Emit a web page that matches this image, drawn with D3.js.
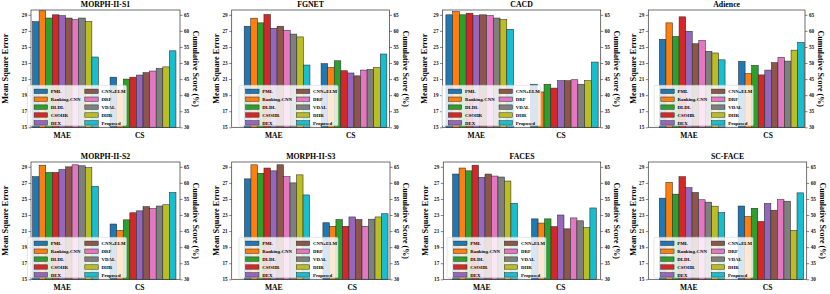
<!DOCTYPE html>
<html>
<head>
<meta charset="utf-8">
<script src="https://cdn.jsdelivr.net/npm/d3@7"></script>
<style>
body { margin: 0; background: #fff; }
svg { display: block; }
text { font-family: "Liberation Serif", "Times New Roman", serif; }
</style>
</head>
<body>
<svg width="830" height="294"></svg>
<script>
var methods = ["PML", "Ranking-CNN", "DLDL", "CSOHR", "DEX", "CNN+ELM", "DRF", "VDAL", "DHR", "Proposed"];
var colors = ["#1f77b4", "#ff7f0e", "#2ca02c", "#d62728", "#9467bd", "#8c564b", "#e377c2", "#7f7f7f", "#bcbd22", "#17becf"];
var groups = ["MAE", "CS"];
var leftTicks = [15, 17, 19, 21, 23, 25, 27, 29];
var rightTicks = [30, 35, 40, 45, 50, 55, 60, 65];

// values (MAE on left axis, CS on right axis)
var morphS1Mae = [28.15, 29.5, 28.6, 29.0, 28.9, 28.6, 28.4, 28.6, 28.15, 23.75];
var morphS1Cs  = [45.6, 41.6, 45.0, 45.6, 46.25, 47.0, 47.5, 48.3, 48.8, 53.8];
var fgnetMae   = [27.58, 28.58, 28.0, 29.04, 27.33, 27.58, 27.08, 26.6, 26.25, 22.75];
var fgnetCs    = [49.8, 48.6, 50.7, 47.6, 46.9, 46.0, 47.8, 48.0, 48.6, 52.8];
var cacdMae    = [29.0, 29.4, 29.0, 29.2, 28.9, 29.0, 28.9, 28.6, 28.4, 27.2];
var cacdCs     = [43.4, 41.0, 43.4, 42.2, 44.5, 44.5, 44.8, 43.4, 44.5, 50.3];
var adienceMae = [25.95, 28.0, 26.3, 28.75, 26.95, 25.4, 25.8, 24.45, 24.25, 23.4];
var adienceCs  = [50.5, 46.7, 49.25, 46.3, 47.8, 50.1, 51.75, 50.6, 54.0, 56.4];
var morphS2Mae = [27.77, 29.2, 28.3, 28.3, 28.65, 29.0, 29.25, 29.13, 28.9, 26.57];
var morphS2Cs  = [47.2, 45.2, 48.5, 50.7, 51.3, 52.6, 52.0, 52.8, 53.2, 57.0];
var morphS3Mae = [27.5, 29.25, 28.2, 28.85, 28.5, 29.25, 27.77, 27.0, 28.0, 25.5];
var morphS3Cs  = [47.6, 46.5, 48.6, 46.5, 49.4, 48.6, 46.5, 48.7, 49.4, 50.4];
var facesMae   = [28.1, 28.85, 28.5, 29.2, 27.7, 28.1, 27.85, 27.73, 27.23, 24.46];
var facesCs    = [48.8, 47.5, 48.8, 46.4, 50.0, 45.7, 49.1, 48.2, 46.1, 52.2];
var scfaceMae  = [25.1, 27.07, 25.6, 27.77, 26.4, 25.8, 24.9, 24.6, 24.1, 23.3];
var scfaceCs   = [52.8, 49.5, 52.1, 48.0, 53.6, 51.5, 54.8, 54.3, 45.2, 56.9];

var panels = [
  {title: "MORPH-II-S1", mae: morphS1Mae, cs: morphS1Cs, left: 31, right: 180, top: 10, xlim: [-0.445, 1.477], bw: 0.085, ylab: 26},
  {title: "FGNET", mae: fgnetMae, cs: fgnetCs, left: 231.7, right: 389.5, top: 10, xlim: [-0.59, 1.462], bw: 0.0855, ylab: 15.5},
  {title: "CACD", mae: cacdMae, cs: cacdCs, left: 442.5, right: 600.7, top: 10, xlim: [-0.44, 1.43], bw: 0.08, ylab: 18},
  {title: "Adience", mae: adienceMae, cs: adienceCs, left: 648.3, right: 805, top: 10, xlim: [-0.555, 1.425], bw: 0.083, ylab: 15.5},
  {title: "MORPH-II-S2", mae: morphS2Mae, cs: morphS2Cs, left: 31, right: 180, top: 162, xlim: [-0.445, 1.477], bw: 0.085, ylab: 26},
  {title: "MORPH-II-S3", mae: morphS3Mae, cs: morphS3Cs, left: 231.7, right: 390, top: 162, xlim: [-0.577, 1.44], bw: 0.083, ylab: 15.5},
  {title: "FACES", mae: facesMae, cs: facesCs, left: 443.3, right: 600.7, top: 162, xlim: [-0.528, 1.465], bw: 0.082, ylab: 18},
  {title: "SC-FACE", mae: scfaceMae, cs: scfaceCs, left: 648.3, right: 806.7, top: 162, xlim: [-0.555, 1.455], bw: 0.083, ylab: 15.5}
];

var plotH = 117.3;
var svg = d3.select("svg");

function drawPanel(p) {
  var g = svg.append("g");
  var bottom = p.top + plotH;
  var x = d3.scaleLinear().domain(p.xlim).range([p.left, p.right]);
  var yL = d3.scaleLinear().domain([15, 29.6]).range([bottom, p.top]);
  var yR = d3.scaleLinear().domain([30, 66.5]).range([bottom, p.top]);

  // bars: MAE group on left axis, CS group on right axis
  var series = [{k: 0, vals: p.mae, y: yL}, {k: 1, vals: p.cs, y: yR}];
  series.forEach(function(s) {
    g.selectAll(null)
      .data(s.vals)
      .enter()
      .append("rect")
      .attr("x", function(d, i) { return x(s.k + (i - 5) * p.bw); })
      .attr("width", function(d, i) { return x(s.k + (i - 4) * p.bw) - x(s.k + (i - 5) * p.bw); })
      .attr("y", function(d) { return s.y(d); })
      .attr("height", function(d) { return bottom - s.y(d); })
      .attr("fill", function(d, i) { return colors[i]; })
      .attr("stroke", "#2a2a2a")
      .attr("stroke-width", 0.55);
  });

  // frame
  g.append("rect")
    .attr("x", p.left).attr("y", p.top)
    .attr("width", p.right - p.left).attr("height", plotH)
    .attr("fill", "none").attr("stroke", "#333").attr("stroke-width", 0.7);

  var axL = g.append("g").attr("transform", "translate(" + p.left + ",0)")
    .call(d3.axisLeft(yL).tickValues(leftTicks).tickSize(2.5).tickPadding(1.5));
  var axR = g.append("g").attr("transform", "translate(" + p.right + ",0)")
    .call(d3.axisRight(yR).tickValues(rightTicks).tickSize(2.5).tickPadding(1.5));
  [axL, axR].forEach(function(a) {
    a.select(".domain").remove();
    a.selectAll("line").attr("stroke", "#333").attr("stroke-width", 0.6);
    a.selectAll("text").style("font-size", "5.2px").style("font-weight", "bold").attr("fill", "#111");
  });

  // x labels
  g.selectAll(null)
    .data(groups)
    .enter()
    .append("text")
    .attr("x", function(d, k) { return x(k - p.bw / 2); })
    .attr("y", bottom + 10.3)
    .attr("text-anchor", "middle")
    .style("font-size", "7.5px")
    .style("font-weight", "bold")
    .text(function(d) { return d; });

  // title
  g.append("text")
    .attr("x", (p.left + p.right) / 2)
    .attr("y", p.top - 3)
    .attr("text-anchor", "middle")
    .style("font-size", "7.8px")
    .style("font-weight", "bold")
    .text(p.title);

  // axis titles
  g.append("text")
    .attr("transform", "translate(" + (p.left - p.ylab) + "," + (p.top + plotH / 2) + ") rotate(-90)")
    .attr("text-anchor", "middle")
    .attr("dy", "0.35em")
    .style("font-size", "8.3px")
    .style("font-weight", "bold")
    .text("Mean Square Error");
  g.append("text")
    .attr("transform", "translate(" + (p.right + 16) + "," + (p.top + plotH / 2) + ") rotate(90)")
    .attr("text-anchor", "middle")
    .attr("dy", "0.35em")
    .style("font-size", "8px")
    .style("font-weight", "bold")
    .text("Cumulative Score (%)");

  // legend
  var lx = x(0) - 38, lw = 99, lh = 40.5, ly = bottom - 1.5 - lh;
  var leg = g.append("g").attr("transform", "translate(" + lx + "," + ly + ")");
  leg.append("rect")
    .attr("width", lw).attr("height", lh).attr("rx", 1.5)
    .attr("fill", "#fff").attr("fill-opacity", 0.82)
    .attr("stroke", "#ccc").attr("stroke-width", 0.5);
  var items = leg.selectAll(null)
    .data(methods)
    .enter()
    .append("g")
    .attr("transform", function(d, i) {
      return "translate(" + (Math.floor(i / 5) * 50.7) + "," + (6 + (i % 5) * 7.9) + ")";
    });
  items.append("rect")
    .attr("x", 6.6).attr("y", -2.2).attr("width", 13.4).attr("height", 4.4)
    .attr("fill", function(d, i) { return colors[i]; })
    .attr("stroke", "#2a2a2a").attr("stroke-width", 0.5);
  items.append("text")
    .attr("x", 23.3).attr("dy", "0.35em")
    .style("font-size", "4.8px")
    .style("font-weight", "bold")
    .text(function(d) { return d; });
}

panels.forEach(drawPanel);
</script>
</body>
</html>
